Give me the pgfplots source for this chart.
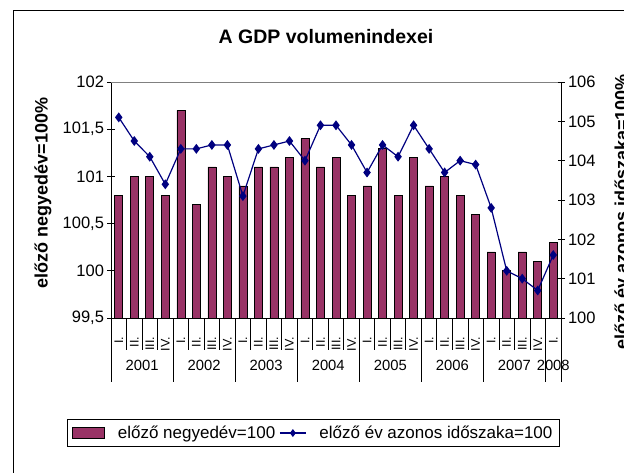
\documentclass[border=0pt]{standalone}
\usepackage{pgfplots}
\usepackage{pgfplotstable}
\pgfplotsset{compat=1.18}
\usepackage{fontspec}
\setmainfont{Liberation Sans}
\definecolor{barcol}{RGB}{153,51,102}
\definecolor{navy}{RGB}{0,0,128}

\pgfplotsset{navyleg/.style={legend image code/.code={\draw[mark repeat=2, mark phase=2, mark size=3pt, ##1] plot coordinates {(0pt,0pt) (13pt,0pt) (26pt,0pt)};}}}

\pgfplotstableread{
x bar line
0 100.8 105.1
1 101.0 104.5
2 101.0 104.1
3 100.8 103.4
4 101.7 104.3
5 100.7 104.3
6 101.1 104.4
7 101.0 104.4
8 100.9 103.1
9 101.1 104.3
10 101.1 104.4
11 101.2 104.5
12 101.4 104.0
13 101.1 104.9
14 101.2 104.9
15 100.8 104.4
16 100.9 103.7
17 101.3 104.4
18 100.8 104.1
19 101.2 104.9
20 100.9 104.3
21 101.0 103.7
22 100.8 104.0
23 100.6 103.9
24 100.2 102.8
25 100.0 101.2
26 100.2 101.0
27 100.1 100.7
28 100.3 101.6
}\data

\newcommand{\tickfont}{\fontsize{16.5}{18}\selectfont}
\newcommand{\qfont}{\fontsize{12.5}{13}\selectfont}
\newcommand{\yearfont}{\fontsize{14.8}{16}\selectfont}
\newcommand{\labfont}{\bfseries\fontsize{18}{20}\selectfont}

\begin{document}
\begin{tikzpicture}
\path[use as bounding box] (0pt,0pt) rectangle (624pt,472pt);
% outer chart frame
\draw[line width=0.9pt] (13pt,-20pt) -- (13pt,462pt) -- (660pt,462pt);
% title
\node[font=\bfseries\fontsize{19.5}{21}\selectfont] at (326pt,435pt) {A GDP volumenindexei};

\begin{axis}[
  at={(111pt,154pt)}, anchor=south west,
  scale only axis, width=450pt, height=236pt,
  xmin=-0.5, xmax=28.5, ymin=99.5, ymax=102,
  axis x line*=bottom, axis y line*=left,
  axis line style={line width=0.8pt, black},
  ytick={99.5,100,100.5,101,101.5,102},
  /pgf/number format/.cd, use comma, 1000 sep={}, assume math mode=true, /pgfplots/.cd,
  yticklabel style={font=\tickfont},
  tick align=center, major tick length=7pt,
  ytick style={line width=0.8pt, black},
  xtick={0,...,28},
  xticklabels={I.,II.,III.,IV.,I.,II.,III.,IV.,I.,II.,III.,IV.,I.,II.,III.,IV.,I.,II.,III.,IV.,I.,II.,III.,IV.,I.,II.,III.,IV.,I.},
  xtick style={draw=none},
  xticklabel style={rotate=90, anchor=east, font=\qfont},
  xticklabel shift=12pt,
  ylabel={előző negyedév=100\%},
  ylabel style={at={(axis description cs:-0.151,0.53)}, anchor=center, font=\labfont},
  clip=false,
]
\addplot[ybar, bar width=8pt, fill=barcol, draw=black, line width=0.6pt] table[x=x,y=bar]{\data};
\draw[gray, line width=0.8pt] (rel axis cs:0,1) -- (rel axis cs:1,1);
\end{axis}

\begin{axis}[
  at={(111pt,154pt)}, anchor=south west,
  scale only axis, width=450pt, height=236pt,
  xmin=-0.5, xmax=28.5, ymin=100, ymax=106,
  axis x line=none, axis y line*=right,
  axis line style={line width=0.8pt, black},
  ytick={100,101,...,106},
  /pgf/number format/.cd, 1000 sep={}, assume math mode=true, /pgfplots/.cd,
  yticklabel style={font=\tickfont},
  tick align=center, major tick length=7pt,
  ytick style={line width=0.8pt, black},
  ylabel={előző év azonos időszaka=100\%},
  ylabel style={at={(axis description cs:1.1333,0.449)}, anchor=center, font=\labfont},
  legend columns=2,
  legend style={at={(axis description cs:-0.0978,-0.4873)}, anchor=west,
    draw=black, line width=0.6pt, font=\fontsize{17}{19}\selectfont,
    inner xsep=5pt, inner ysep=4.5pt,
    /tikz/every odd column/.append style={column sep=11pt},
    /tikz/every even column/.append style={column sep=2pt}},
  legend cell align=left,
]
\addlegendimage{legend image code/.code={\draw[fill=barcol, draw=black, line width=0.6pt] (0pt,-5pt) rectangle (32pt,6pt);}}
\addlegendentry{előző negyedév=100}
\addplot[navy, line width=1.2pt, mark=diamond*, mark size=4pt, navyleg]
  table[x=x,y=line]{\data};
\addlegendentry{előző év azonos időszaka=100}
\end{axis}

% category separators
\foreach \k in {0,...,29} {
  \draw[line width=0.8pt] ({(111+450*\k/29)*1pt},154pt) -- ++(0pt,-32pt);
}
\foreach \k in {0,4,8,12,16,20,24,28,29} {
  \draw[line width=0.8pt] ({(111+450*\k/29)*1pt},154pt) -- ++(0pt,-64pt);
}
% year labels
\foreach \k/\yr in {2/2001,6/2002,10/2003,14/2004,18/2005,22/2006,26/2007,28.5/2008} {
  \node[font=\yearfont] at ({(111+450*\k/29)*1pt},107pt) {\yr};
}
\end{tikzpicture}
\end{document}
